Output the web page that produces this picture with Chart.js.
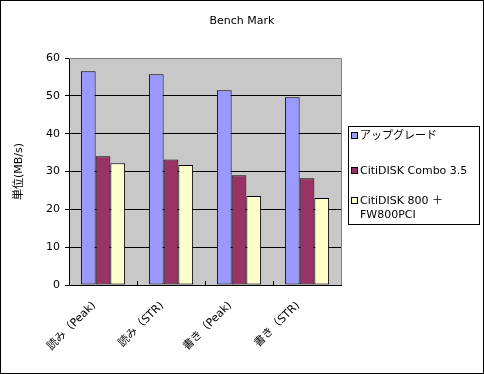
<!DOCTYPE html>
<html>
<head>
<meta charset="utf-8">
<script src="https://cdn.jsdelivr.net/npm/chart.js@4/dist/chart.umd.min.js"></script>
<style>
  html, body { margin: 0; padding: 0; background: #fff; }
  canvas { display: block; }
</style>
</head>
<body>
<canvas id="chart" width="484" height="374"></canvas>
<script>
// data
var categories = ['読み（Peak)', '読み（STR)', '書き（Peak)', '書き（STR)'];
var seriesNames = ['アップグレード', 'CitiDISK Combo 3.5', 'CitiDISK 800 ＋ FW800PCI'];
var upgrade = [56.5, 55.7, 51.5, 49.6];
var combo35 = [34.0, 33.2, 29.0, 28.2];
var fw800 = [32.2, 31.7, 23.5, 23.0];
var yTicks = [0, 10, 20, 30, 40, 50, 60];

var colors = ['#9999FF', '#993366', '#FFFFCC'];
var FONT = '"DejaVu Sans", "Noto Sans CJK JP", sans-serif';

// plot background, frame, title, legend (legend drawn by hand because of the wrapped label)
var excelLook = {
	id: 'excelLook',
	beforeDraw: function(chart) {
		var ctx = chart.ctx, a = chart.chartArea;
		ctx.save();
		ctx.fillStyle = '#fff';
		ctx.fillRect(0, 0, chart.width, chart.height);
		ctx.fillStyle = '#C8C8C8';
		ctx.fillRect(a.left, a.top, a.right - a.left, a.bottom - a.top);
		ctx.restore();
	},
	beforeDatasetsDraw: function(chart) {
		var ctx = chart.ctx, a = chart.chartArea;
		ctx.save();
		ctx.strokeStyle = '#808080';
		ctx.lineWidth = 1;
		ctx.beginPath();
		ctx.moveTo(a.left, Math.round(a.top) + 0.5);
		ctx.lineTo(Math.round(a.right) + 0.5, Math.round(a.top) + 0.5);
		ctx.lineTo(Math.round(a.right) + 0.5, a.bottom);
		ctx.stroke();
		ctx.restore();
	},
	afterDraw: function(chart) {
		var ctx = chart.ctx;
		ctx.save();
		// outer frame
		ctx.strokeStyle = '#000';
		ctx.lineWidth = 1;
		ctx.strokeRect(0.5, 0.5, chart.width - 1, chart.height - 1);
		// title
		ctx.fillStyle = '#000';
		ctx.font = '11px ' + FONT;
		ctx.textAlign = 'center';
		ctx.textBaseline = 'middle';
		ctx.fillText('Bench Mark', chart.width / 2, 21);
		// legend
		var lx = 348, ly = 126, lw = 131, lh = 98;
		ctx.strokeRect(lx + 0.5, ly + 0.5, lw, lh);
		var rows = [136, 171, 201];
		ctx.textAlign = 'left';
		chart.data.datasets.forEach(function(ds, i) {
			var y = rows[i];
			ctx.fillStyle = ds.backgroundColor;
			ctx.fillRect(352, y - 3, 6, 6);
			ctx.strokeStyle = '#000';
			ctx.strokeRect(351.5, y - 3.5, 6, 6);
			ctx.fillStyle = '#000';
			var words = ds.label.split(' '), line = '', lines = [];
			words.forEach(function(w) {
				var test = line ? line + ' ' + w : w;
				if (line && ctx.measureText(test).width > 116) {
					lines.push(line);
					line = w;
				} else {
					line = test;
				}
			});
			lines.push(line);
			lines.forEach(function(t, k) {
				ctx.fillText(t, 360, y + k * 14);
			});
		});
		ctx.restore();
	}
};

var ctx = document.getElementById('chart').getContext('2d');
var chart = new Chart(ctx, {
	type: 'bar',
	data: {
		labels: categories,
		datasets: [
			{ label: seriesNames[0], data: upgrade, backgroundColor: colors[0] },
			{ label: seriesNames[1], data: combo35, backgroundColor: colors[1] },
			{ label: seriesNames[2], data: fw800, backgroundColor: colors[2] }
		].map(function(d) {
			d.borderColor = '#000';
			d.borderWidth = 1;
			d.borderSkipped = false;
			d.categoryPercentage = 0.65;
			d.barPercentage = 1.0;
			return d;
		})
	},
	options: {
		responsive: false,
		animation: false,
		layout: { padding: { left: 0, right: 143, top: 58, bottom: 0 } },
		plugins: {
			legend: { display: false },
			title: { display: false },
			tooltip: { enabled: false }
		},
		scales: {
			x: {
				grid: {
					display: true,
					offset: true,
					drawOnChartArea: false,
					tickLength: -4,
					color: '#000'
				},
				border: { color: '#000', width: 1 },
				ticks: {
					color: '#000',
					font: { family: FONT, size: 11 },
					minRotation: 45,
					maxRotation: 45,
					padding: 18,
					labelOffset: -9,
					autoSkip: false
				},
				afterFit: function(s) { s.height = 89; }
			},
			y: {
				min: 0,
				max: 60,
				afterBuildTicks: function(s) {
					s.ticks = yTicks.map(function(v) { return { value: v }; });
				},
				grid: {
					color: function(c) { return c.tick && c.tick.value === 60 ? '#808080' : '#000'; },
					tickColor: '#000',
					tickLength: 4
				},
				border: { color: '#000', width: 1 },
				ticks: {
					color: '#000',
					font: { family: FONT, size: 11 },
					padding: 5
				},
				title: {
					display: true,
					text: '単位(MB/s)',
					color: '#000',
					font: { family: FONT, size: 11 },
					padding: { top: 13, bottom: 0 }
				},
				afterFit: function(s) { s.width = 69; }
			}
		}
	},
	plugins: [excelLook]
});
</script>
</body>
</html>
